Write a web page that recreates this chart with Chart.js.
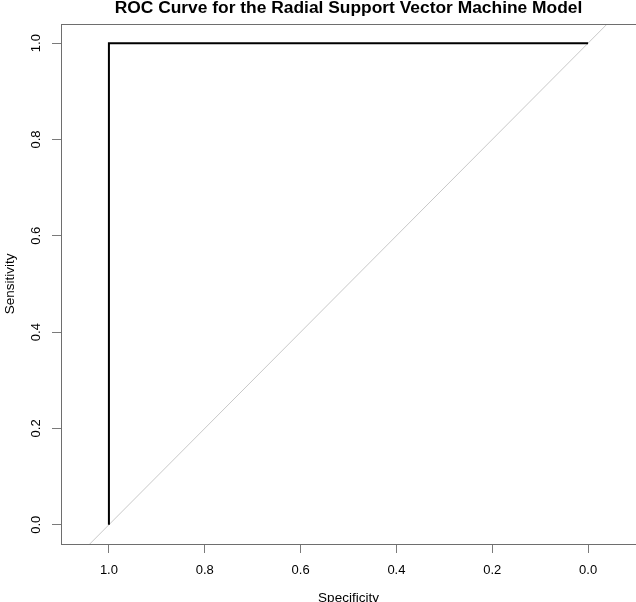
<!DOCTYPE html>
<html>
<head>
<meta charset="utf-8">
<script src="https://cdn.jsdelivr.net/npm/chart.js@4.4.1/dist/chart.umd.min.js"></script>
<style>
  html, body { margin: 0; padding: 0; background: #fff; }
  #wrap { width: 636px; height: 602px; }
</style>
</head>
<body>
<div id="wrap"><canvas id="rocChart"></canvas></div>
<script>
// ROC curve points (specificity on x, sensitivity on y)
const specificity = [1.0, 1.0, 0.0];
const sensitivity = [0.0, 1.0, 1.0];

// chance line: sensitivity = 1 - specificity
const chanceSpec = [1.1, -0.1];
const chanceSens = [-0.1, 1.1];

const xTickValues = [1.0, 0.8, 0.6, 0.4, 0.2, 0.0];
const yTickValues = [0.0, 0.2, 0.4, 0.6, 0.8, 1.0];

const fontFamily = "'Liberation Sans', Arial, Helvetica, sans-serif";

// box round the plot area, like R's box()
const plotBox = {
  id: "plotBox",
  afterDraw(chart) {
    const a = chart.chartArea;
    const ctx = chart.ctx;
    ctx.save();
    ctx.strokeStyle = "#6e6e6e";
    ctx.lineWidth = 1;
    ctx.strokeRect(Math.round(a.left) + 0.5, Math.round(a.top) + 0.5,
      Math.round(a.right - a.left), Math.round(a.bottom - a.top));
    ctx.restore();
  },
};

const ctx = document.getElementById("rocChart");

new Chart(ctx.getContext("2d"), {
  type: "line",
  data: {
    datasets: [
      {
        label: "ROC",
        data: specificity.map((s, i) => ({ x: s, y: sensitivity[i] })),
        borderColor: "#000000",
        borderWidth: 2,
        pointRadius: 0,
        tension: 0,
        order: 0,
      },
      {
        label: "Chance",
        data: chanceSpec.map((s, i) => ({ x: s, y: chanceSens[i] })),
        borderColor: "#c8c8c8",
        borderWidth: 1,
        pointRadius: 0,
        tension: 0,
        order: 1,
      },
    ],
  },
  options: {
    responsive: true,
    maintainAspectRatio: false,
    animation: false,
    layout: { padding: 0 },
    plugins: {
      legend: { display: false },
      tooltip: { enabled: false },
      title: {
        display: true,
        text: "ROC Curve for the Radial Support Vector Machine Model",
        color: "#000",
        fullSize: false,
        font: { family: fontFamily, size: 17.4, weight: "bold" },
        padding: { top: -2, bottom: 5 },
      },
    },
    scales: {
      x: {
        type: "linear",
        reverse: true,
        min: -0.1,
        max: 1.1,
        afterBuildTicks: (scale) => {
          scale.ticks = xTickValues.map((v) => ({ value: v }));
        },
        afterFit: (scale) => {
          scale.height = 58;
        },
        ticks: {
          color: "#000",
          padding: 10,
          font: { family: fontFamily, size: 13 },
          callback: (v) => Number(v).toFixed(1),
          maxRotation: 0,
        },
        grid: {
          drawOnChartArea: false,
          drawTicks: true,
          tickLength: 9,
          color: "#7a7a7a",
        },
        border: { display: false },
        title: {
          display: true,
          text: "Specificity",
          color: "#000",
          font: { family: fontFamily, size: 13.5 },
          padding: { top: 0, bottom: -4 },
        },
      },
      y: {
        type: "linear",
        min: -0.04,
        max: 1.04,
        afterBuildTicks: (scale) => {
          scale.ticks = yTickValues.map((v) => ({ value: v }));
        },
        afterFit: (scale) => {
          scale.width = 61;
        },
        ticks: {
          color: "#000",
          padding: 7,
          minRotation: 90,
          maxRotation: 90,
          crossAlign: "center",
          font: { family: fontFamily, size: 13 },
          callback: (v) => Number(v).toFixed(1),
        },
        grid: {
          drawOnChartArea: false,
          drawTicks: true,
          tickLength: 9,
          color: "#7a7a7a",
        },
        border: { display: false },
        title: {
          display: true,
          text: "Sensitivity",
          color: "#000",
          font: { family: fontFamily, size: 13.5 },
          padding: { top: 2, bottom: 0 },
        },
      },
    },
  },
  plugins: [plotBox],
});
</script>
</body>
</html>
